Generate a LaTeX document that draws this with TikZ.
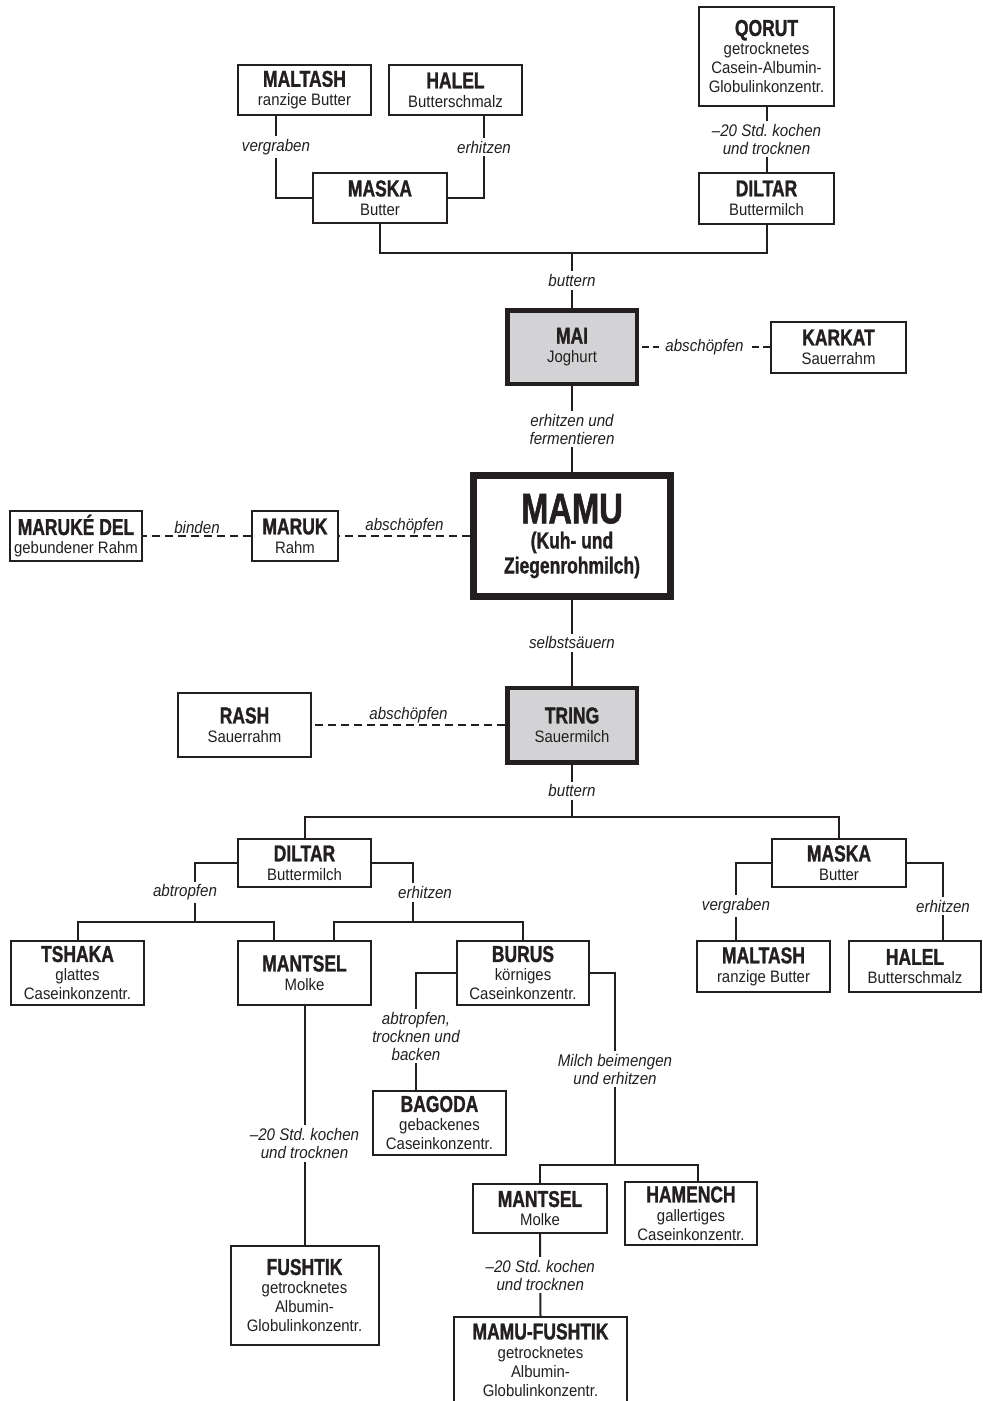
\documentclass[tikz,border=0pt]{standalone}
\usepackage{fontspec}
\newfontfamily\subfont{Liberation Sans}[FakeStretch=0.9]
\newfontfamily\namefont{Liberation Sans}[FakeStretch=0.76,BoldFeatures={FakeBold=1.2}]
\usepackage{tikz}
\definecolor{ink}{RGB}{35,31,32}
\definecolor{milkgray}{RGB}{211,211,213}
\newcommand{\nm}[1]{{\namefont\bfseries\fontsize{23}{23}\selectfont #1}}
\newcommand{\subsize}{\subfont\fontsize{16.6}{19}\selectfont}
\newcommand{\lblsize}{\subfont\itshape\fontsize{16.8}{18}\selectfont}
\frenchspacing

\begin{document}
\begin{tikzpicture}[x=1pt,y=-1pt,line width=2pt,color=ink,
	box/.style={draw=ink,fill=white,line width=2pt,align=center,inner sep=0pt,font=\subsize},
	greybox/.style={box,fill=milkgray,line width=4.5pt},
	lbl/.style={fill=white,font=\lblsize,align=center,inner sep=3pt},
	toplbl/.style={above,font=\lblsize,inner sep=1.5pt},
	dashconn/.style={dash pattern=on 8pt off 5pt}]
	\useasboundingbox (0,0) rectangle (983,1401);
	\clip (0,0) rectangle (983,1401);

	% oben
	\node[box,minimum width=133pt,minimum height=50pt] (maltashT) at (304.5,90) {\nm{MALTASH}\\ ranzige Butter};
	\node[box,minimum width=133pt,minimum height=50pt] (halelT) at (455.5,90) {\nm{HALEL}\\ Butterschmalz};
	\node[box,minimum width=134pt,minimum height=50pt] (maskaT) at (380,198) {\nm{MASKA}\\ Butter};
	\node[box,minimum width=135pt,minimum height=99pt] (qorut) at (766.5,56.5) {\nm{QORUT}\\ getrocknetes\\ Casein-Albumin-\\ Globulinkonzentr.};
	\node[box,minimum width=135pt,minimum height=51pt] (diltarT) at (766.5,198) {\nm{DILTAR}\\ Buttermilch};

	% mitte
	\node[greybox,minimum width=129.5pt,minimum height=73.5pt] (mai) at (572,347) {\nm{MAI}\\ Joghurt};
	\node[box,minimum width=135pt,minimum height=51pt] (karkat) at (838.5,347) {\nm{KARKAT}\\ Sauerrahm};
	\node[box,line width=7pt,minimum width=197pt,minimum height=121pt,font=\namefont\bfseries\fontsize{23}{25}\selectfont] (mamu) at (572,536) {{\fontsize{43}{25}\selectfont MAMU}\\ (Kuh- und\\ Ziegenrohmilch)};
	\node[box,minimum width=86pt,minimum height=50pt] (maruk) at (295,536) {\nm{MARUK}\\ Rahm};
	\node[box,minimum width=132pt,minimum height=50pt] (marukedel) at (76,536) {\nm{MARUKÉ DEL}\\ gebundener Rahm};
	\node[greybox,minimum width=129.5pt,minimum height=74.5pt] (tring) at (572,725) {\nm{TRING}\\ Sauermilch};
	\node[box,minimum width=133pt,minimum height=64pt] (rash) at (244.5,725) {\nm{RASH}\\ Sauerrahm};

	% unten
	\node[box,minimum width=133pt,minimum height=48pt] (diltarB) at (304.5,863) {\nm{DILTAR}\\ Buttermilch};
	\node[box,minimum width=134pt,minimum height=48pt] (maskaB) at (839,863) {\nm{MASKA}\\ Butter};
	\node[box,minimum width=133pt,minimum height=64pt] (tshaka) at (77.5,973) {\nm{TSHAKA}\\ glattes\\ Caseinkonzentr.};
	\node[box,minimum width=133pt,minimum height=64pt] (mantselA) at (304.5,973) {\nm{MANTSEL}\\ Molke};
	\node[box,minimum width=132pt,minimum height=64pt] (burus) at (523,973) {\nm{BURUS}\\ körniges\\ Caseinkonzentr.};
	\node[box,minimum width=133pt,minimum height=51pt] (maltashB) at (763.5,966.5) {\nm{MALTASH}\\ ranzige Butter};
	\node[box,minimum width=132pt,minimum height=51pt] (halelB) at (915,966.5) {\nm{HALEL}\\ Butterschmalz};
	\node[box,minimum width=133pt,minimum height=64pt] (bagoda) at (439.5,1123) {\nm{BAGODA}\\ gebackenes\\ Caseinkonzentr.};
	\node[box,minimum width=134pt,minimum height=49pt] (mantselB) at (540,1208.5) {\nm{MANTSEL}\\ Molke};
	\node[box,minimum width=132pt,minimum height=63pt] (hamench) at (691,1213.5) {\nm{HAMENCH}\\ gallertiges\\ Caseinkonzentr.};
	\node[box,minimum width=148pt,minimum height=99pt] (fushtik) at (304.5,1295.5) {\nm{FUSHTIK}\\ getrocknetes\\ Albumin-\\ Globulinkonzentr.};
	\node[box,minimum width=173pt,minimum height=86pt] (mamufushtik) at (540.5,1360) {\nm{MAMU-FUSHTIK}\\ getrocknetes\\ Albumin-\\ Globulinkonzentr.};

	\coordinate (topJoin) at (572,253);
	\coordinate (tringJoin) at (572,817);
	\coordinate (abJoin) at (195,922);
	\coordinate (erJoin) at (413,922);
	\coordinate (milchJoin) at (615,1165);

	\draw ([xshift=39pt]maltashT.south west) |- node[lbl,pos=0.19] {vergraben} (maskaT.west);
	\draw ([xshift=-39pt]halelT.south east) |- node[lbl,pos=0.19] {erhitzen} (maskaT.east);
	\draw (maskaT.south) |- (topJoin) -| (diltarT.south);
	\draw (qorut.south) -- node[lbl] {–20 Std. kochen\\und trocknen} (diltarT.north);
	\draw (topJoin) -- node[lbl] {buttern} (mai.north);
	\draw[dash pattern=on 7pt off 4pt] (karkat.west) -- node[lbl,inner xsep=6pt] {abschöpfen} (mai.east);
	\draw (mai.south) -- node[lbl] {erhitzen und\\fermentieren} (mamu.north);
	\draw[dashconn] (mamu.west) -- node[toplbl] {abschöpfen} (maruk.east);
	\draw[dashconn] (maruk.west) -- node[toplbl] {binden} (marukedel.east);
	\draw (mamu.south) -- node[lbl] {selbstsäuern} (tring.north);
	\draw[dashconn] (tring.west) -- node[toplbl] {abschöpfen} (rash.east);
	\draw (tring.south) -- node[lbl] {buttern} (tringJoin);
	\draw (diltarB.north) |- (tringJoin) -| (maskaB.north);

	\draw (diltarB.west) -| node[lbl,pos=0.75,xshift=-10pt] {abtropfen} (abJoin);
	\draw (tshaka.north) |- (abJoin) -| ([xshift=37pt]mantselA.north west);
	\draw (diltarB.east) -| node[lbl,pos=0.75,xshift=12pt] {erhitzen} (erJoin);
	\draw ([xshift=-38pt]mantselA.north east) |- (erJoin) -| (burus.north);
	\draw (maskaB.west) -| node[lbl,pos=0.78] {vergraben} ([xshift=40pt]maltashB.north west);
	\draw (maskaB.east) -| node[lbl,pos=0.78] {erhitzen} ([xshift=-39pt]halelB.north east);

	\draw (burus.west) -| node[lbl,pos=0.77] {abtropfen,\\trocknen und\\backen} ([xshift=44pt]bagoda.north west);
	\draw (burus.east) -| node[lbl,pos=0.75] {Milch beimengen\\und erhitzen} (milchJoin);
	\draw (mantselB.north) |- (milchJoin) -| ([xshift=7pt]hamench.north);
	\draw (mantselB.south) -- node[lbl] {–20 Std. kochen\\und trocknen} (mamufushtik.north);
	\draw (mantselA.south) -- node[lbl,pos=0.575] {–20 Std. kochen\\und trocknen} (fushtik.north);
\end{tikzpicture}
\end{document}
